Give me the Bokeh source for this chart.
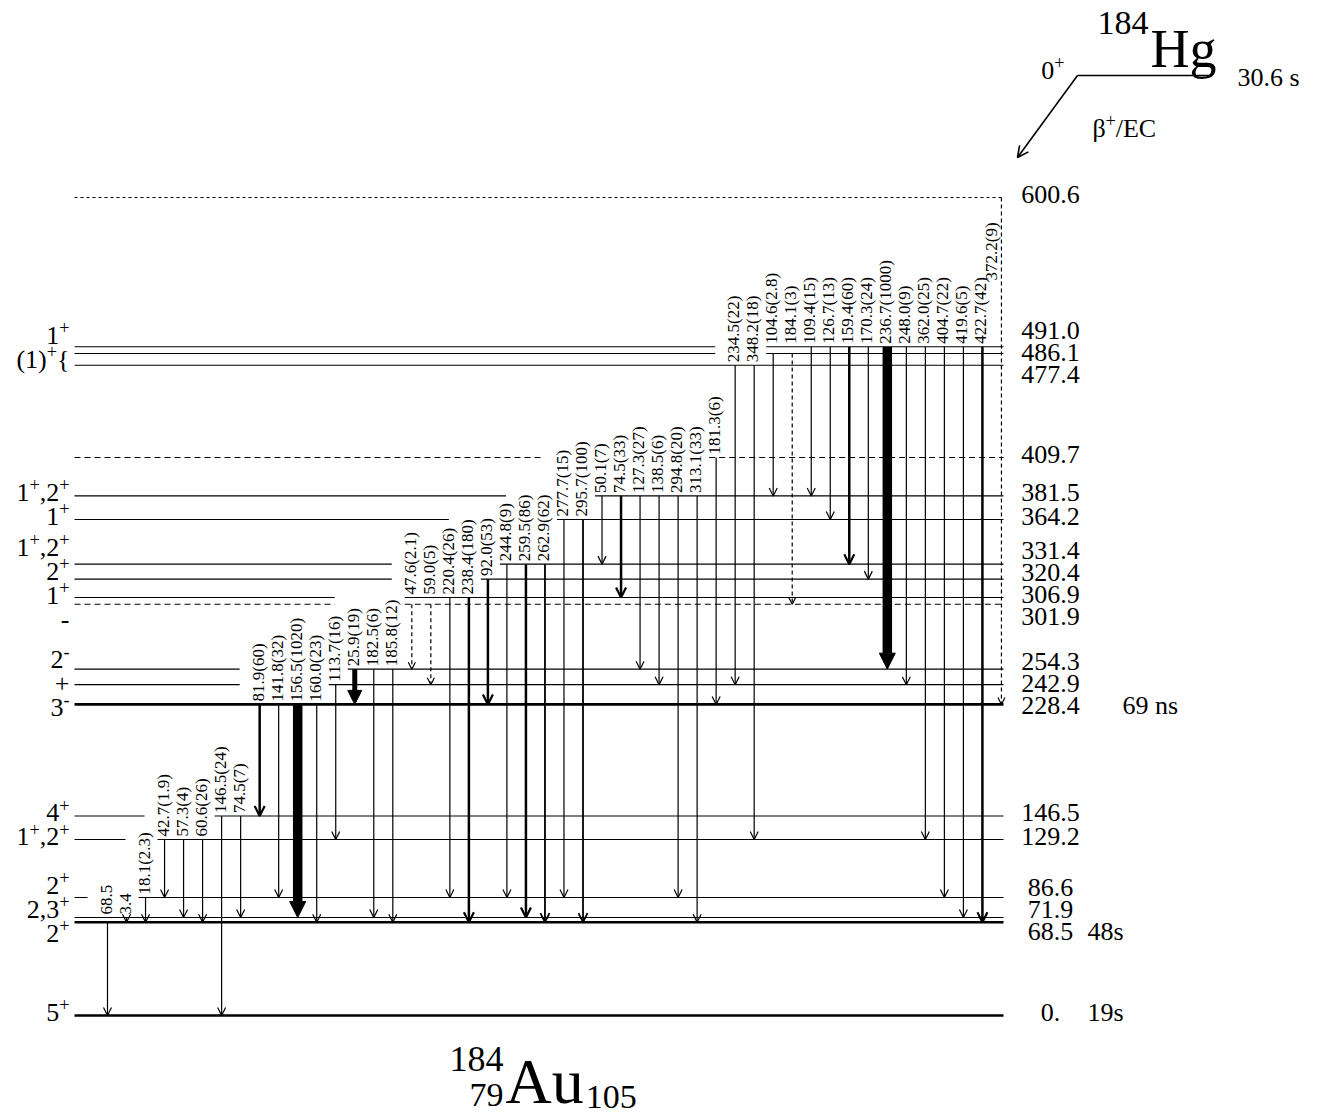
import math
from bokeh.plotting import figure
from bokeh.models import Arrow, OpenHead, NormalHead, ColumnDataSource, Range1d
from bokeh.core.properties import value
from bokeh.embed import file_html
from bokeh.resources import INLINE

# ------------------------------------------------------------------ data
level_energy = [0.0, 68.5, 71.9, 86.6, 129.2, 146.5, 228.4, 242.9, 254.3,
                301.9, 306.9, 320.4, 331.4, 364.2, 381.5, 409.7, 477.4,
                486.1, 491.0, 600.6]
level_text = ["0.", "68.5", "71.9", "86.6", "129.2", "146.5", "228.4", "242.9",
              "254.3", "301.9", "306.9", "320.4", "331.4", "364.2", "381.5",
              "409.7", "477.4", "486.1", "491.0", "600.6"]
level_spin = ["5^{+}", "2^{+}", "2,3^{+}", "2^{+}", "1^{+},2^{+}", "4^{+}",
              "3^{-}", "+", "2^{-}", "-", "1^{+}", "2^{+}", "1^{+},2^{+}",
              "1^{+}", "1^{+},2^{+}", "", "", "(1)^{+}{", "1^{+}", ""]
level_halflife = ["19s", "48s", "", "", "", "", "69 ns", "", "", "", "", "",
                  "", "", "", "", "", "", "", ""]
level_style = ["thick", "thick", "thin", "thin", "thin", "thin", "thick", "thin",
               "thin", "dashed", "thin", "thin", "thin", "thin", "thin", "dashed",
               "thin", "thin", "thin", "dotted"]

gamma_text = ["68.5", "3.4", "18.1(2.3)", "42.7(1.9)", "57.3(4)", "60.6(26)",
              "146.5(24)", "74.5(7)", "81.9(60)", "141.8(32)", "156.5(1020)",
              "160.0(23)", "113.7(16)", "25.9(19)", "182.5(6)", "185.8(12)",
              "47.6(2.1)", "59.0(5)", "220.4(26)", "238.4(180)", "92.0(53)",
              "244.8(9)", "259.5(86)", "262.9(62)", "277.7(15)", "295.7(100)",
              "50.1(7)", "74.5(33)", "127.3(27)", "138.5(6)", "294.8(20)",
              "313.1(33)", "181.3(6)", "234.5(22)", "348.2(18)", "104.6(2.8)",
              "184.1(3)", "109.4(15)", "126.7(13)", "159.4(60)", "170.3(24)",
              "236.7(1000)", "248.0(9)", "362.0(25)", "404.7(22)", "419.6(5)",
              "422.7(42)", "372.2(9)"]
gamma_from = [68.5, 71.9, 86.6, 129.2, 129.2, 129.2, 146.5, 146.5, 228.4, 228.4,
              228.4, 228.4, 242.9, 254.3, 254.3, 254.3, 301.9, 301.9, 306.9,
              306.9, 320.4, 331.4, 331.4, 331.4, 364.2, 364.2, 381.5, 381.5,
              381.5, 381.5, 381.5, 381.5, 409.7, 477.4, 477.4, 486.1, 486.1,
              491.0, 491.0, 491.0, 491.0, 491.0, 491.0, 491.0, 491.0, 491.0,
              491.0, 600.6]
gamma_to = [0.0, 68.5, 68.5, 86.6, 71.9, 68.5, 0.0, 71.9, 146.5, 86.6, 71.9,
            68.5, 129.2, 228.4, 71.9, 68.5, 254.3, 242.9, 86.6, 68.5, 228.4,
            86.6, 71.9, 68.5, 86.6, 68.5, 331.4, 306.9, 254.3, 242.9, 86.6,
            68.5, 228.4, 242.9, 129.2, 381.5, 301.9, 381.5, 364.2, 331.4,
            320.4, 254.3, 242.9, 129.2, 86.6, 71.9, 68.5, 228.4]
gamma_style = ["thin", "thin", "thin", "thin", "thin", "thin", "thin", "thin",
               "med", "thin", "huge", "thin", "thin", "big", "thin", "thin",
               "dash", "dash", "thin", "med", "med", "thin", "med", "med1",
               "thin", "med1", "thin", "med", "thin", "thin", "thin", "thin",
               "thin", "thin", "thin", "thin", "dash", "thin", "thin", "med",
               "thin", "huge", "thin", "thin", "thin", "thin", "med", "dash"]

parent_mass, parent_symbol = "184", "Hg"
parent_spin, parent_halflife = "0^{+}", "30.6 s"
decay_mode = "β^{+}/EC"
daughter_mass, daughter_z, daughter_symbol, daughter_n = "184", "79", "Au", "105"

# ------------------------------------------------------------------ layout
W, H = 1325, 1120
Y0, S = 1015.0, 1.362          # pixel row of 0 keV, pixels per keV
XL, XR = 74.0, 1003.0          # level line extent
C0, DC = 107.0, 19.02          # transition columns
LBL_FS = 17.0
LBL_GAP = 3.0
CROSS_MARGIN = 5.0
FONT = "Liberation Serif"
MID = 0.34                     # digit centre above baseline, in em


def ypx(E):
    return Y0 - E * S


def Epx(y):
    return (Y0 - y) / S


WID = {c: 500 for c in "0123456789"}
WID.update({'.': 250, ',': 250, '(': 333, ')': 333, '+': 564, '-': 333,
            '{': 480, ' ': 250, 's': 389, 'n': 500, 'A': 722, 'u': 500,
            'H': 722, 'g': 500, 'β': 500, '/': 278, 'E': 611, 'C': 667})


def adv(s, fs):
    return sum(WID.get(c, 500) for c in s) * fs / 1000.0


def spread(desired, sep):
    idx = sorted(range(len(desired)), key=lambda i: desired[i])
    clusters = [[i] for i in idx]

    def place(c):
        m = sum(desired[i] for i in c) / len(c)
        n = len(c)
        return [m + (k - (n - 1) / 2.0) * sep for k in range(n)]

    changed = True
    while changed:
        changed = False
        for j in range(len(clusters) - 1):
            a, b = place(clusters[j]), place(clusters[j + 1])
            if b[0] - a[-1] < sep - 1e-9:
                clusters[j] = clusters[j] + clusters[j + 1]
                del clusters[j + 1]
                changed = True
                break
    out = [0.0] * len(desired)
    for c in clusters:
        for i, v in zip(c, place(c)):
            out[i] = v
    return out


def parse_rich(s):
    runs, i, buf = [], 0, ""
    while i < len(s):
        if s[i] in "^_" and i + 1 < len(s) and s[i + 1] == "{":
            if buf:
                runs.append((buf, 0))
                buf = ""
            j = s.index("}", i)
            runs.append((s[i + 2:j], 1 if s[i] == "^" else -1))
            i = j + 1
        else:
            buf += s[i]
            i += 1
    if buf:
        runs.append((buf, 0))
    return runs


rich = dict(x=[], y=[], yo=[], text=[], fs=[])


def put_rich(s, x, E, base_off, fs, align="left", sup_scale=0.7, sup_rise=0.40):
    """base_off: baseline position in px below the point (x, E)."""
    runs = parse_rich(s)
    sizes = [fs if k == 0 else fs * sup_scale for _, k in runs]
    total = sum(adv(t, z) for (t, _), z in zip(runs, sizes))
    if align == "right":
        cx = x - total
    elif align == "center":
        cx = x - total / 2.0
    else:
        cx = x
    for (t, k), z in zip(runs, sizes):
        rise = sup_rise * fs if k == 1 else (-0.25 * fs if k == -1 else 0.0)
        rich["x"].append(cx)
        rich["y"].append(E)
        rich["yo"].append(base_off - rise - MID * z)
        rich["text"].append(t)
        rich["fs"].append("%.1fpx" % z)
        cx += adv(t, z)


p = figure(width=W, height=H, x_range=Range1d(0, W),
           y_range=Range1d(Epx(H), Epx(0)), output_backend="svg",
           toolbar_location=None, x_axis_type=None, y_axis_type=None,
           min_border=0)
p.grid.visible = False
p.outline_line_color = None
p.background_fill_color = "white"

# ---------------------------------------------------------- transition geometry
ng = len(gamma_text)
gx = [C0 + DC * i for i in range(ng)]
top_level = max(level_energy)
special = [gamma_from[i] == top_level for i in range(ng)]
gbase = []
for i in range(ng):
    b = gamma_from[i]
    for E in level_energy:
        d = (E - gamma_from[i]) * S
        if 0 < d < 8:
            b = E
    gbase.append(b)
gbot = [ypx(gbase[i]) - LBL_GAP for i in range(ng)]
gtop = [gbot[i] - adv(gamma_text[i], LBL_FS) for i in range(ng)]


def crossing(E):
    yl = ypx(E)
    return {i for i in range(ng) if not special[i]
            and yl < gbot[i] - 0.5 and yl >= gtop[i] - CROSS_MARGIN}


# ---------------------------------------------------------- level lines
seg = {k: dict(x0=[], x1=[], y=[]) for k in ("thick", "thin", "dashed", "dotted")}
for k, E in enumerate(level_energy):
    cr = set(crossing(E))
    for E2 in level_energy:
        d = (E - E2) * S
        if 0 < d < 8:
            cr |= crossing(E2)
    gaps = sorted([gx[i] - 20, gx[i] + 12] for i in cr)
    merged = []
    for g in gaps:
        if merged and g[0] <= merged[-1][1]:
            merged[-1][1] = max(merged[-1][1], g[1])
        else:
            merged.append(list(g))
    right = XR
    if level_style[k] == "dotted":
        right = max(gx[i] for i in range(ng) if gamma_from[i] == E)
    x = XL
    for a, b in merged:
        if a > x:
            seg[level_style[k]]["x0"].append(x)
            seg[level_style[k]]["x1"].append(a)
            seg[level_style[k]]["y"].append(E)
        x = max(x, b)
    if x < right:
        seg[level_style[k]]["x0"].append(x)
        seg[level_style[k]]["x1"].append(right)
        seg[level_style[k]]["y"].append(E)

seg_style = {"thick": dict(line_width=2.6, line_dash="solid"),
             "thin": dict(line_width=1.1, line_dash="solid"),
             "dashed": dict(line_width=1.1, line_dash="6 4"),
             "dotted": dict(line_width=1.1, line_dash="3 3")}
for k, d in seg.items():
    if d["x0"]:
        src = ColumnDataSource(dict(x0=d["x0"], x1=d["x1"], y=d["y"]))
        p.segment(x0="x0", y0="y", x1="x1", y1="y", source=src,
                  line_color="black", **seg_style[k])

# ---------------------------------------------------------- transitions
arrow_style = {
    "thin": dict(w=1.2, dash="solid", head="open", hs=8),
    "dash": dict(w=1.2, dash="4 3", head="open", hs=7),
    "med1": dict(w=1.8, dash="solid", head="open", hs=9),
    "med": dict(w=2.5, dash="solid", head="open", hs=10),
    "big": dict(w=5.0, dash="solid", head="normal", hs=14),
    "huge": dict(w=9.5, dash="solid", head="normal", hs=16),
}
for i in range(ng):
    st = arrow_style[gamma_style[i]]
    if st["head"] == "open":
        head = OpenHead(size=st["hs"], line_width=min(st["w"], 2.2),
                        line_color="black")
    else:
        head = NormalHead(size=st["hs"], fill_color="black",
                          line_color="black", line_width=1)
    p.add_layout(Arrow(end=head, x_start=gx[i], y_start=gamma_from[i],
                       x_end=gx[i], y_end=gamma_to[i], line_width=st["w"],
                       line_dash=st["dash"], line_color="black"))

lbl = dict(x=[], y=[], yo=[], text=[])
for i in range(ng):
    if special[i]:
        lbl["x"].append(gx[i] - 10)
        lbl["y"].append(gamma_from[i])
        lbl["yo"].append(83)
    else:
        lbl["x"].append(gx[i] - 1.5)
        lbl["y"].append(gbase[i])
        lbl["yo"].append(-LBL_GAP)
    lbl["text"].append(gamma_text[i])
p.text(x="x", y="y", text="text", y_offset="yo", source=ColumnDataSource(lbl),
       angle=math.pi / 2, text_align="left", text_baseline="middle",
       text_font=value(FONT), text_font_size="%.1fpx" % LBL_FS,
       text_color="black")

# ---------------------------------------------------------- energy labels (right)
EN_FS = 26
desired = [ypx(E) - 3 for E in level_energy]
centers = spread(desired, 22)
for k, E in enumerate(level_energy):
    off = centers[k] - ypx(E) + MID * EN_FS
    put_rich(level_text[k], 1050, E, off, EN_FS, align="center")
    if level_halflife[k]:
        hx = 1122 if "n" in level_halflife[k] else 1087
        put_rich(level_halflife[k], hx, E, off, EN_FS, align="left")

# ---------------------------------------------------------- spin labels (left)
SP_FS = 26
sp_idx = [k for k in range(len(level_energy)) if level_spin[k]]
sp_centers = spread([ypx(level_energy[k]) - 3 for k in sp_idx], 24)
for c, k in zip(sp_centers, sp_idx):
    E = level_energy[k]
    off = c - ypx(E) + MID * SP_FS
    put_rich(level_spin[k], 69, E, off, SP_FS, align="right")

# ---------------------------------------------------------- parent (top right)
PL_Y, PL_X0, PL_X1 = 75, 1077, 1210
p.segment(x0=[PL_X0], y0=[Epx(PL_Y)], x1=[PL_X1], y1=[Epx(PL_Y)],
          line_color="black", line_width=1.6)
p.add_layout(Arrow(end=OpenHead(size=11, line_width=1.6, line_color="black"),
                   x_start=PL_X0, y_start=Epx(PL_Y), x_end=1017,
                   y_end=Epx(157), line_width=1.6, line_color="black"))
put_rich(parent_spin, 1064, Epx(79), 0, 26, align="right")
put_rich(parent_mass, 1148, Epx(34), 0, 34, align="right")
put_rich(parent_symbol, 1150, Epx(67), 0, 54, align="left")
put_rich(parent_halflife, 1237, Epx(86), 0, 26, align="left")
put_rich(decay_mode, 1092, Epx(137), 0, 26, align="left")

# ---------------------------------------------------------- daughter (bottom)
AU_X = 505
put_rich(daughter_symbol, AU_X, Epx(1103), 0, 64, align="left")
put_rich(daughter_mass, AU_X - 2, Epx(1071), 0, 36, align="right")
put_rich(daughter_z, AU_X - 2, Epx(1106), 0, 34, align="right")
put_rich(daughter_n, AU_X + adv(daughter_symbol, 64) + 2, Epx(1108), 0, 34,
         align="left")

p.text(x="x", y="y", text="text", y_offset="yo", text_font_size="fs",
       source=ColumnDataSource(rich), text_align="left",
       text_baseline="middle", text_font=value(FONT), text_color="black")

open("out.html", "w").write(file_html(p, INLINE))
